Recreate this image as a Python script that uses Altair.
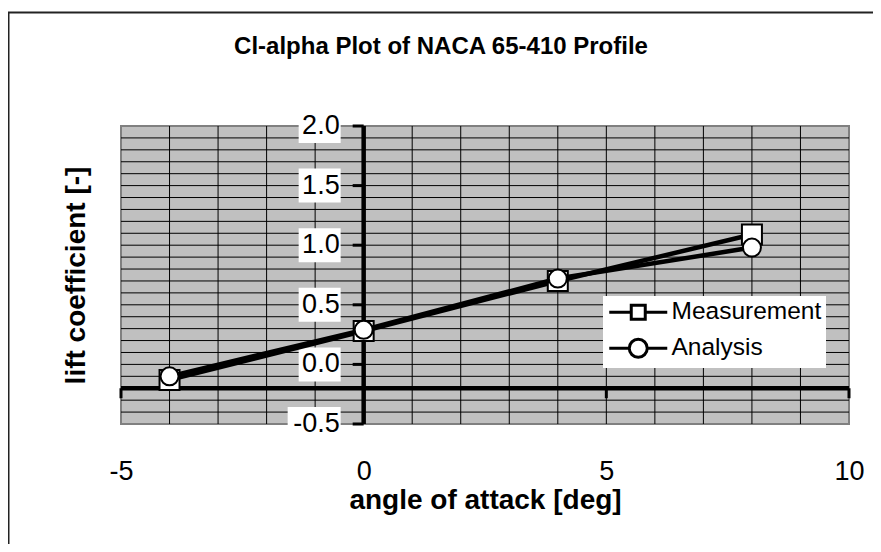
import altair as alt
import pandas as pd

# ---- data ----
ALPHA = [-4, 0, 4, 8]
CL_MEASUREMENT = [-0.13, 0.28, 0.70, 1.09]
CL_ANALYSIS = [-0.10, 0.29, 0.72, 0.98]
SERIES = ["Measurement", "Analysis"]

X_DOMAIN = [-5, 10]
Y_DOMAIN = [-0.5, 2.0]
X_TICKS = [-5, 0, 5, 10]
Y_TICKS = [-0.5, 0.0, 0.5, 1.0, 1.5, 2.0]
Y_TICK_LABELS = ["-0.5", "0.0", "0.5", "1.0", "1.5", "2.0"]
X_GRID = [-4, -3, -2, -1, 0, 1, 2, 3, 4, 5, 6, 7, 8, 9]
Y_GRID = [-0.4, -0.3, -0.2, -0.1, 0.0, 0.1, 0.2, 0.3, 0.4, 0.5, 0.6, 0.7, 0.8, 0.9,
          1.0, 1.1, 1.2, 1.3, 1.4, 1.5, 1.6, 1.7, 1.8, 1.9]
X_AXIS_AT = -0.2   # y value where the horizontal axis is drawn
Y_AXIS_AT = 0      # x value where the vertical axis is drawn

TITLE = "Cl-alpha Plot of NACA 65-410 Profile"
X_TITLE = "angle of attack [deg]"
Y_TITLE = "lift coefficient [-]"

FONT = "Liberation Sans"

# ---- tables ----
meas = pd.DataFrame({"alpha": ALPHA, "cl": CL_MEASUREMENT, "series": SERIES[0]})
anal = pd.DataFrame({"alpha": ALPHA, "cl": CL_ANALYSIS, "series": SERIES[1]})
both = pd.concat([meas, anal], ignore_index=True)
xgrid = pd.DataFrame({"g": X_GRID})
ygrid = pd.DataFrame({"g": Y_GRID})
yticks = pd.DataFrame({"y": Y_TICKS, "label": Y_TICK_LABELS, "x0": Y_AXIS_AT})
xticks = pd.DataFrame({"x": X_TICKS, "y0": X_AXIS_AT})
yline = pd.DataFrame({"x0": [Y_AXIS_AT], "lo": [Y_DOMAIN[0]], "hi": [Y_DOMAIN[1]]})
xline = pd.DataFrame({"y0": [X_AXIS_AT], "lo": [X_DOMAIN[0]], "hi": [X_DOMAIN[1]]})

xs = alt.Scale(domain=X_DOMAIN, nice=False, zero=False)
ys = alt.Scale(domain=Y_DOMAIN, nice=False, zero=False)

xaxis = alt.Axis(values=X_TICKS, grid=False, ticks=False, domain=False,
                 labelFont=FONT, labelFontSize=27, labelColor="black",
                 labelPadding=34, labelFlush=False, labelExpr="'' + datum.value",
                 title=X_TITLE, titleFont=FONT, titleFontSize=28,
                 titleFontWeight="bold", titleColor="black", titlePadding=2)
yaxis = alt.Axis(labels=False, grid=False, ticks=False, domain=False,
                 title=Y_TITLE, titleFont=FONT, titleFontSize=28,
                 titleFontWeight="bold", titleColor="black", titlePadding=31)


def X(f):
    return alt.X(f, type="quantitative", scale=xs, axis=xaxis)


def Y(f):
    return alt.Y(f, type="quantitative", scale=ys, axis=yaxis)


# outer frame (decoration)
frame = alt.Chart(alt.Data(values=[{}])).mark_rect(
    fill="white", fillOpacity=0, stroke="#222222", strokeWidth=2
).encode(x=alt.value(-112.5), x2=alt.value(800), y=alt.value(-113.5), y2=alt.value(500))

vgrid = alt.Chart(xgrid).mark_rule(color="black", strokeWidth=1).encode(x=X("g"))
hgrid = alt.Chart(ygrid).mark_rule(color="black", strokeWidth=1).encode(y=Y("g"))

box_pos = alt.Chart(yticks).transform_filter("datum.y >= 0").mark_rect(
    color="white", xOffset=-65, x2Offset=-23, yOffset=-17, y2Offset=17
).encode(x=X("x0"), x2="x0", y=Y("y"), y2="y")
box_neg = alt.Chart(yticks).transform_filter("datum.y < 0").mark_rect(
    color="white", xOffset=-76, x2Offset=-23, yOffset=-17, y2Offset=17
).encode(x=X("x0"), x2="x0", y=Y("y"), y2="y")
ylabels = alt.Chart(yticks).mark_text(
    align="right", baseline="middle", dx=-24, font=FONT, fontSize=27, color="black"
).encode(x=X("x0"), y=Y("y"), text="label:N")

yaxis_line = alt.Chart(yline).mark_rule(color="black", strokeWidth=4.5).encode(
    x=X("x0"), y=Y("lo"), y2="hi")
yaxis_ticks = alt.Chart(yticks).mark_rule(
    color="black", strokeWidth=3, xOffset=-11, x2Offset=0
).encode(x=X("x0"), x2="x0", y=Y("y"))
xaxis_line = alt.Chart(xline).mark_rule(color="black", strokeWidth=4.5).encode(
    y=Y("y0"), x=X("lo"), x2="hi")
xaxis_ticks = alt.Chart(xticks).mark_rule(
    color="black", strokeWidth=3, yOffset=0, y2Offset=10
).encode(y=Y("y0"), y2="y0", x=X("x"))

m_line = alt.Chart(meas).mark_line(color="black", strokeWidth=4.5).encode(x=X("alpha"), y=Y("cl"))
m_pts = alt.Chart(meas).mark_point(
    shape="square", filled=True, fill="white", stroke="black", strokeWidth=2, size=400, opacity=1
).encode(x=X("alpha"), y=Y("cl"))
a_line = alt.Chart(anal).mark_line(color="black", strokeWidth=4.5).encode(x=X("alpha"), y=Y("cl"))
a_pts = alt.Chart(anal).mark_point(
    shape="circle", filled=True, fill="white", stroke="black", strokeWidth=2, size=324, opacity=1
).encode(x=X("alpha"), y=Y("cl"))

# legend symbols: line + marker, drawn as one path per series
SQ_PATH = "M-1,0H1.2M2.6,0H4.8M1.2,-0.7H2.6V0.7H1.2Z"
CI_PATH = "M-1,0H1M2.8,0H4.8M1,0A0.9,0.9,0,1,0,2.8,0A0.9,0.9,0,1,0,1,0Z"

# legend-only layer: no rows are drawn, entries come from the explicit domain
legend_layer = alt.Chart(both).transform_filter("false").mark_point(
    filled=False, color="black", strokeWidth=3, opacity=1
).encode(
    x=X("alpha"), y=Y("cl"),
    shape=alt.Shape("series:N", title=None,
                    scale=alt.Scale(domain=SERIES, range=[SQ_PATH, CI_PATH]),
                    legend=alt.Legend(
                        orient="none", legendX=482, legendY=170, symbolOpacity=1,
                        symbolStrokeColor="black", symbolFillColor="white",
                        symbolStrokeWidth=3)),
)

chart = alt.layer(
    frame, vgrid, hgrid, box_pos, box_neg, ylabels,
    yaxis_line, yaxis_ticks, xaxis_line, xaxis_ticks,
    legend_layer, m_line, m_pts, a_line, a_pts,
).properties(
    width=728, height=298,
    title=alt.TitleParams(TITLE, font=FONT, fontSize=24, fontWeight="bold",
                          color="black", anchor="middle", dx=-44, offset=-47),
    autosize=alt.AutoSizeParams(type="none"),
    padding={"left": 113, "top": 118, "right": 24, "bottom": 120},
    background="white",
).configure_view(
    fill="#c0c0c0", stroke="#808080", strokeWidth=2
).configure_legend(
    fillColor="white", padding=4, labelFont=FONT, labelFontSize=24.5,
    labelColor="black", symbolSize=400, symbolStrokeWidth=3,
    symbolFillColor="white", symbolStrokeColor="black", symbolOpacity=1,
    labelOffset=40, rowPadding=7,
)

chart.save("out.html", embed_options={"renderer": "svg", "actions": False})
